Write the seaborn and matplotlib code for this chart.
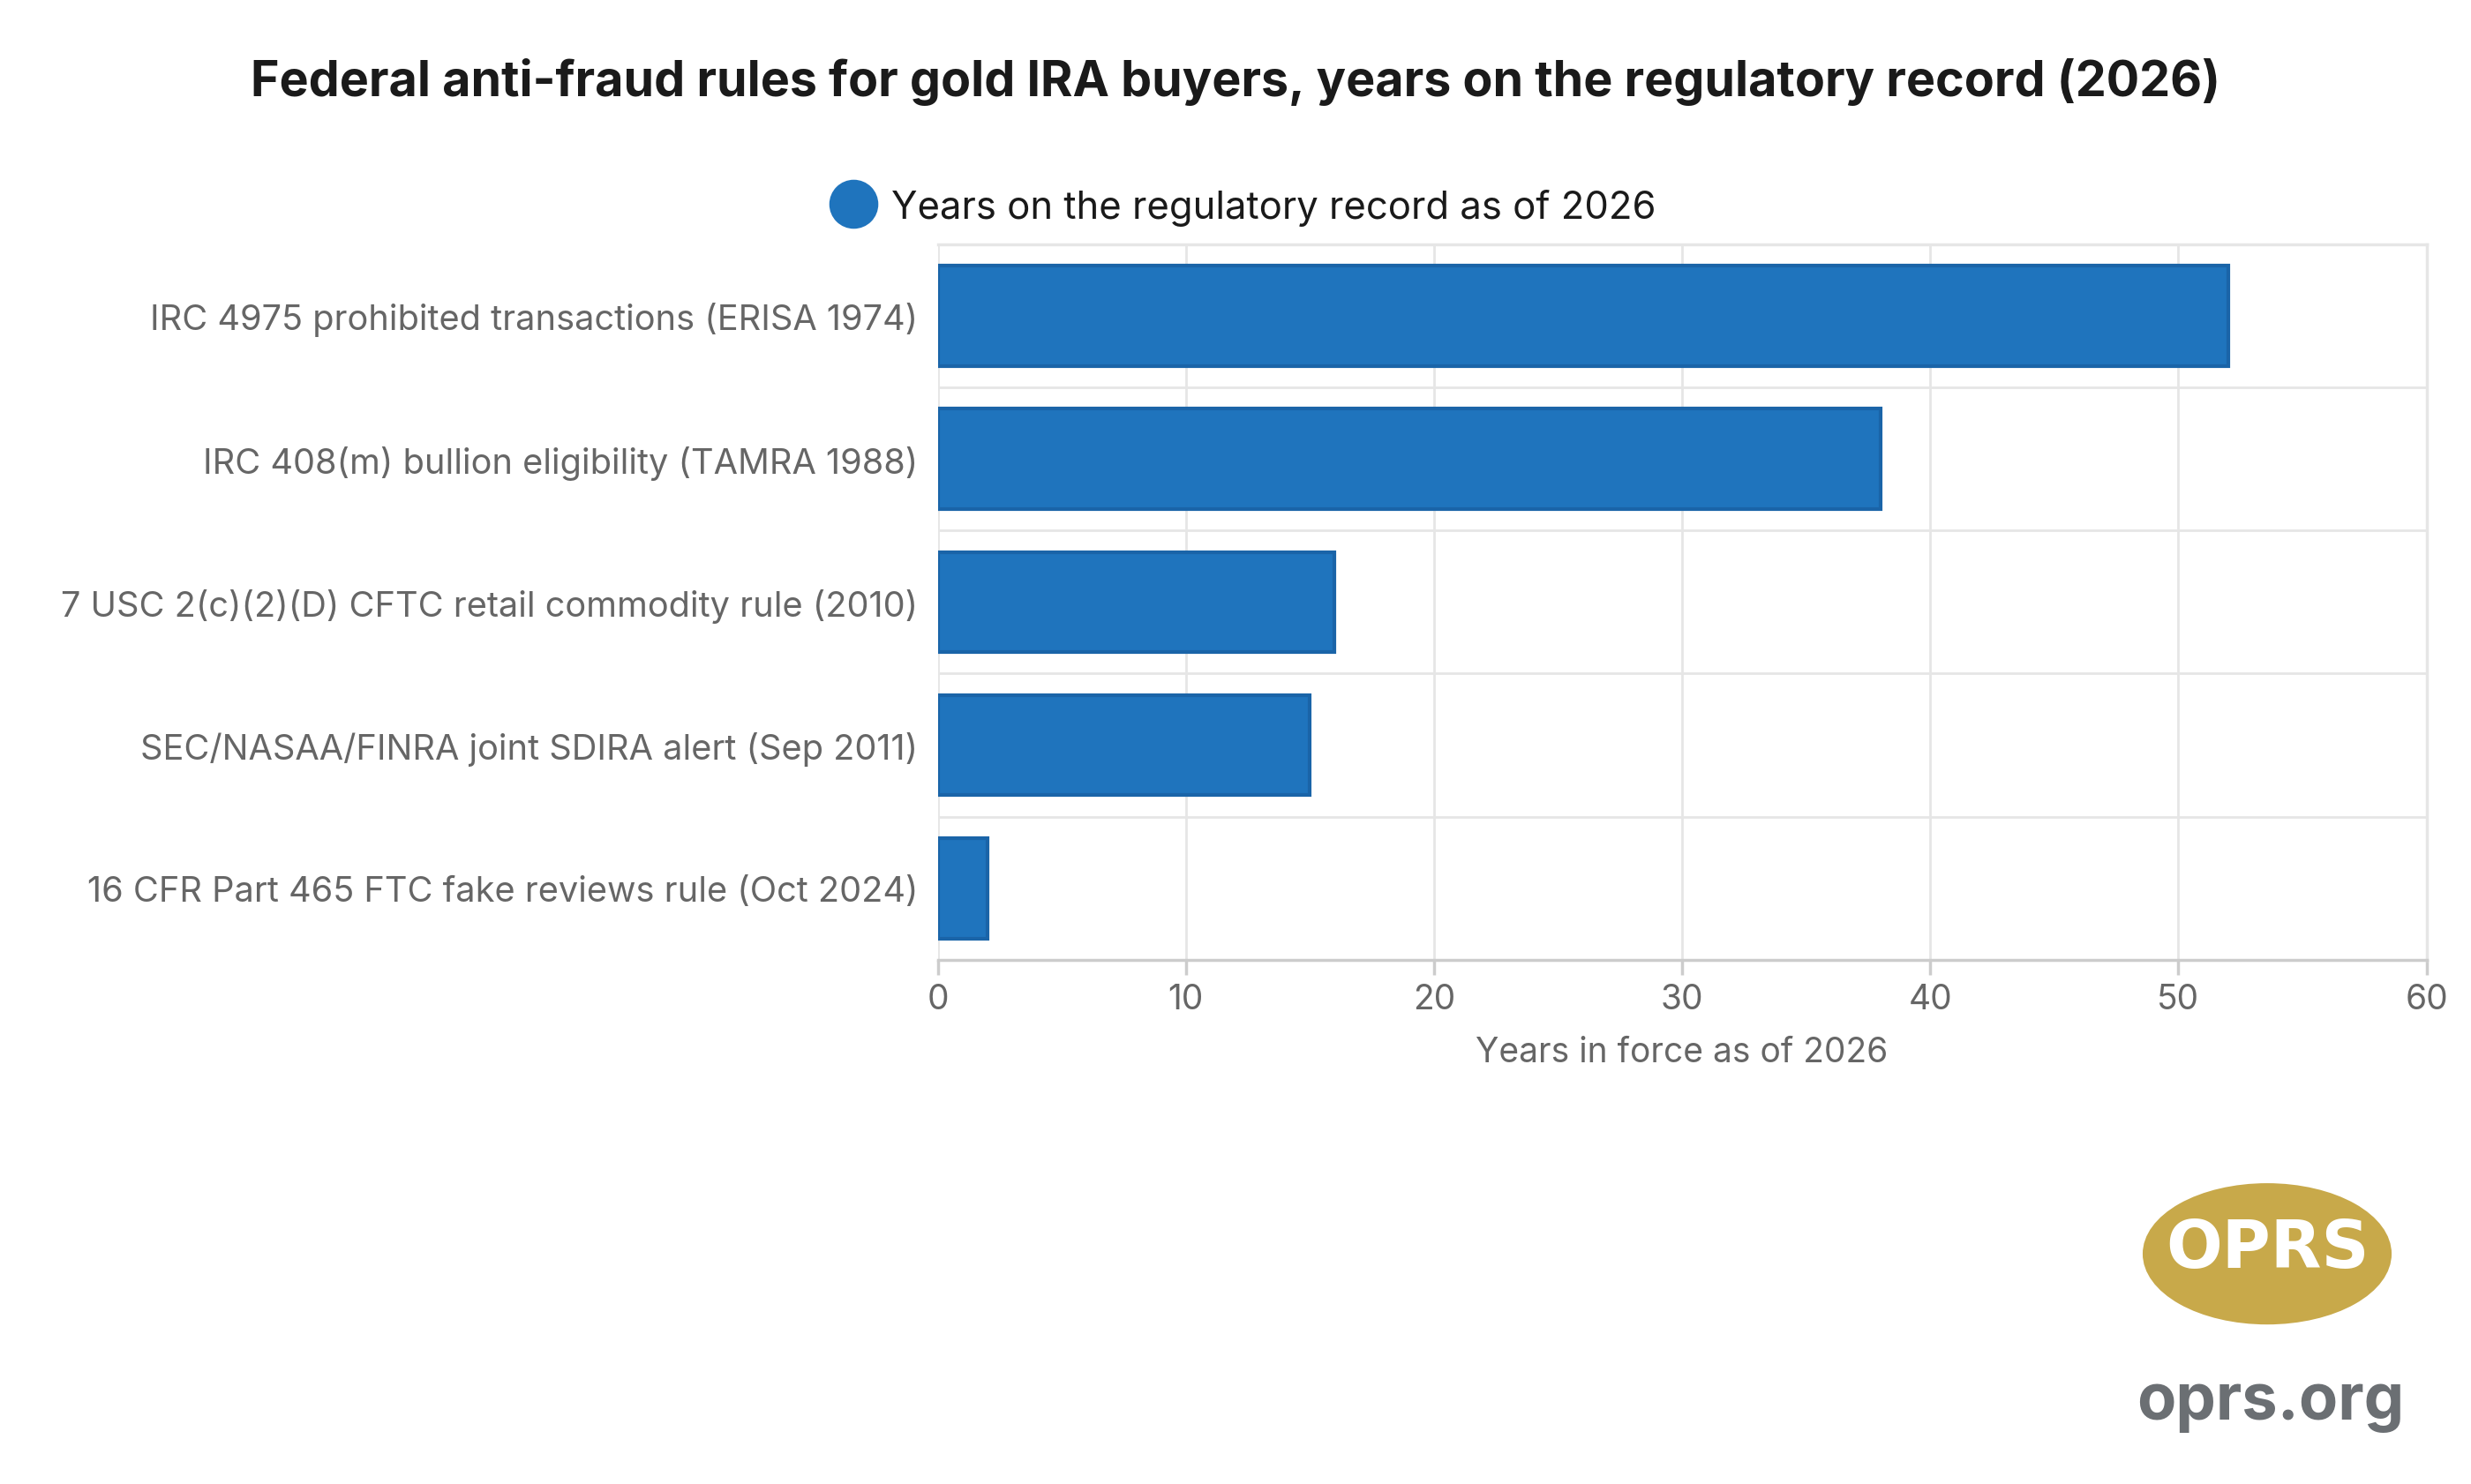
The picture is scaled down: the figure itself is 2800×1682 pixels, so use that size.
import matplotlib
matplotlib.use("Agg")
import matplotlib.pyplot as plt
import seaborn as sns
import pandas as pd
from matplotlib.patches import Ellipse
from matplotlib.lines import Line2D

categories = [
    "IRC 4975 prohibited transactions (ERISA 1974)",
    "IRC 408(m) bullion eligibility (TAMRA 1988)",
    "7 USC 2(c)(2)(D) CFTC retail commodity rule (2010)",
    "SEC/NASAA/FINRA joint SDIRA alert (Sep 2011)",
    "16 CFR Part 465 FTC fake reviews rule (Oct 2024)",
]
years = [52, 38, 16, 15, 2]
xticks = [0, 10, 20, 30, 40, 50, 60]

sns.set_theme(style="white")
plt.rcParams['font.family'] = ['Inter', 'DejaVu Sans']

df = pd.DataFrame({"rule": categories, "years": years})
fig = plt.figure(figsize=(14, 8.415), dpi=200)
ax = fig.add_axes([0.3795, 0.353, 0.6025, 0.482])
sns.barplot(data=df, x="years", y="rule", color="#1f74bd", edgecolor="#1a64a8",
            linewidth=1.5, width=0.7, ax=ax, saturation=1)
ax.set_xlim(0, 60)
ax.set_xticks(xticks)
ax.set_ylim(4.5, -0.5)
ax.set_yticks([y + 0.5 for y in range(-1, 5)], minor=True)
ax.grid(True, axis="x", color="#e6e6e6", linewidth=1)
ax.grid(True, axis="y", which="minor", color="#e6e6e6", linewidth=1)
ax.set_axisbelow(True)
for s in ["top", "right"]:
    ax.spines[s].set_color("#e6e6e6")
ax.spines["left"].set_visible(False)
ax.spines["bottom"].set_color("#cccccc")
ax.tick_params(axis="x", colors="#666666", labelsize=14, length=6, color="#cccccc", bottom=True)
ax.tick_params(axis="y", colors="#666666", labelsize=14.3, length=0, pad=8)
ax.set_ylabel("")
ax.set_xlabel("Years in force as of 2026", color="#666666", fontsize=14, labelpad=8)

fig.text(0.5, 0.945, "Federal anti-fraud rules for gold IRA buyers, years on the regulatory record (2026)",
         ha="center", va="center", fontsize=20, fontweight="bold", color="#1a1a1a")
fig.legend(handles=[Line2D([], [], marker="o", linestyle="", markersize=19, color="#1f74bd")],
           labels=["Years on the regulatory record as of 2026"], loc="center",
           bbox_to_anchor=(0.5, 0.86), frameon=False, fontsize=15.7, handletextpad=0.0,
           labelcolor="#1a1a1a")

# logo
lax = fig.add_axes([0.865, 0.1, 0.105, 0.11])
lax.set_xlim(0, 1); lax.set_ylim(0, 1); lax.axis("off")
lax.add_patch(Ellipse((0.5, 0.5), 0.95, 0.85, color="#c8a94a"))
lax.text(0.5, 0.53, "OPRS", ha="center", va="center", fontsize=27, fontweight="heavy",
         color="white", family="DejaVu Sans")
fig.text(0.919, 0.055, "oprs.org", ha="center", va="center", fontsize=26,
         fontweight="bold", color="#6b6f73")

fig.savefig("out.png", dpi=200)
